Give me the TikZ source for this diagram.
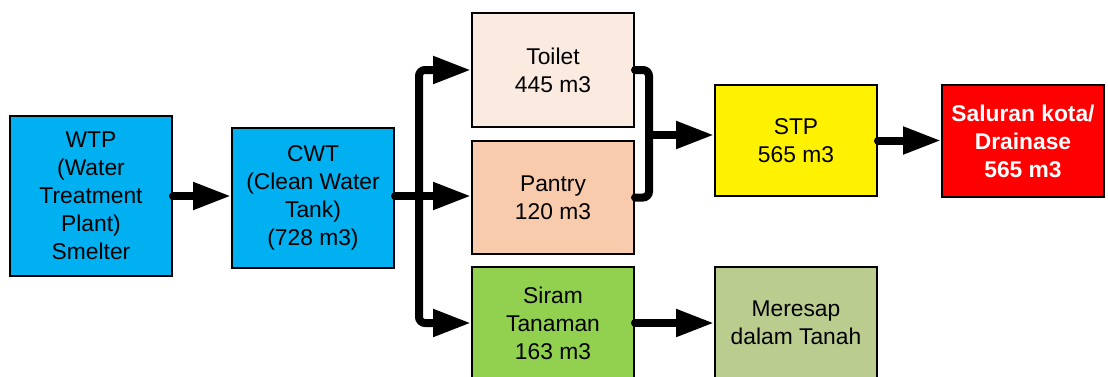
\documentclass[tikz,border=0pt]{standalone}
\usepackage{fontspec}
\setmainfont{Liberation Sans}
\usetikzlibrary{positioning,arrows.meta,calc}
\definecolor{wtpblue}{HTML}{00B0F0}
\definecolor{toiletpeach}{HTML}{FBEAE0}
\definecolor{pantrypeach}{HTML}{F8CBAD}
\definecolor{siramgreen}{HTML}{92D050}
\definecolor{meresapolive}{HTML}{BACD8F}

\begin{document}
\begin{tikzpicture}[
  x=0.5pt, y=-0.5pt,
  font=\fontsize{11.4}{14}\selectfont,
  unit/.style={draw, line width=1pt, align=center, minimum width=81pt, inner sep=2pt},
  flow/.style={-{Triangle[length=19pt,width=13pt]}, line width=4pt, line cap=round, rounded corners=3pt},
  pipe/.style={line width=4pt, line cap=round, rounded corners=3pt}
]
\useasboundingbox (0,0) rectangle (1108,376);

\node[unit, fill=wtpblue, minimum height=80pt] (wtp) at (91,196) {WTP\\(Water\\Treatment\\Plant)\\Smelter};
\node[unit, fill=wtpblue, minimum height=70pt] (cwt) at (313,198) {CWT\\(Clean Water\\Tank)\\(728 m3)};

\node[unit, fill=toiletpeach, minimum height=57pt] (toilet) at (553,70) {Toilet\\445 m3};
\node[unit, fill=pantrypeach, minimum height=56.5pt] (pantry) at (553,197.5) {Pantry\\120 m3};
\node[unit, fill=siramgreen, minimum height=56pt] (siram) at (553,323) {Siram\\Tanaman\\163 m3};

\node[unit, fill=yellow, minimum height=55.5pt] (stp) at (796,140.5) {STP\\565 m3};
\node[unit, fill=red, minimum height=56pt, text=white, font=\fontsize{11.4}{14}\selectfont\bfseries] (saluran) at (1023,141) {Saluran kota/\\Drainase\\565 m3};
\node[unit, fill=meresapolive, minimum height=56pt] (meresap) at (796,323) {Meresap\\dalam Tanah};

% distribusi dari CWT
\coordinate (split) at ($(cwt.east)+(24,-2)$);
\draw[flow] (wtp.east) -- (wtp.east -| cwt.west);
\draw[flow] (cwt.east |- split) -- (split -| pantry.west);
\draw[flow] (split) |- (toilet.west);
\draw[flow] (split) |- (siram.west);

% gabungan ke STP
\coordinate (join) at ($(toilet.east)+(14,65)$);
\draw[pipe] (toilet.east) -| (join) |- (pantry.east);
\draw[flow] (join) -- (join -| stp.west);
\draw[flow] (stp.east) -- (stp.east -| saluran.west);
\draw[flow] (siram.east) -- (meresap.west);
\end{tikzpicture}
\end{document}
